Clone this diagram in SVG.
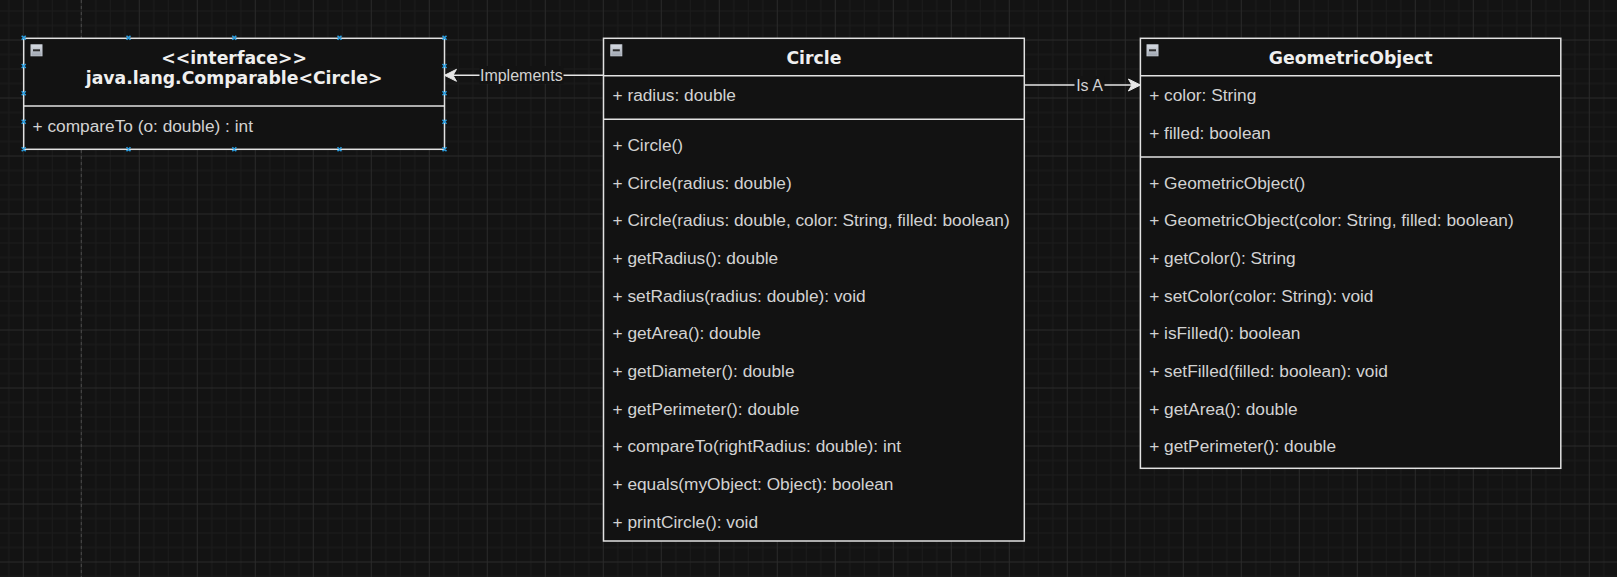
<svg xmlns="http://www.w3.org/2000/svg" xmlns:xlink="http://www.w3.org/1999/xlink" width="1617" height="577" viewBox="0 0 1617 577">
<style>
.box{fill:#121212;stroke:#e2e2e2;stroke-width:1.5}
.div{stroke:#e2e2e2;stroke-width:1.5;fill:none}
.title{font-family:"DejaVu Sans","Liberation Sans",sans-serif;font-weight:bold;font-size:17.3px;fill:#efefef;text-anchor:middle}
.mem{font-family:"Liberation Sans",Arial,sans-serif;font-size:17.3px;fill:#d2d2d2}
.lbl{font-family:"Liberation Sans",Arial,sans-serif;font-size:16px;fill:#d2d2d2;text-anchor:middle}
.edge{stroke:#e6e6e6;stroke-width:1.5;fill:none;marker-end:url(#arrow)}
.lblbg{fill:#131313}
.hdl{stroke:#2b9ee0;stroke-width:1.6;fill:none}
</style>
<defs>
<pattern id="grid" patternUnits="userSpaceOnUse" x="22.8" y="39.5" width="58" height="58">
<rect width="58" height="58" fill="#131313"/>
<path d="M15 0V58M29.5 0V58M44 0V58M0 15H58M0 29.5H58M0 44H58" stroke="#1c1c1c" stroke-width="1"/>
<path d="M0.5 0V58M0 0.5H58" stroke="#2a2a2a" stroke-width="1"/>
</pattern>
<linearGradient id="icg" x1="0" y1="0" x2="0" y2="1">
<stop offset="0" stop-color="#d9dde4"/>
<stop offset="1" stop-color="#9ea5b0"/>
</linearGradient>
<g id="collapse">
<rect x="0.5" y="0.5" width="11" height="11" fill="url(#icg)" stroke="#c4c9d2" stroke-width="1"/>
<rect x="2.5" y="5" width="7" height="2" fill="#2e2e2e"/>
</g>
<marker id="arrow" markerUnits="userSpaceOnUse" viewBox="-13 -7 14 14" markerWidth="14" markerHeight="14" refX="0" refY="0" orient="auto">
<path d="M0,0 L-12,-6 L-8.5,0 L-12,6 Z" fill="#e6e6e6" stroke="#e6e6e6" stroke-width="1" stroke-linejoin="miter"/>
</marker>
</defs>
<rect width="1617" height="577" fill="url(#grid)"/>
<line x1="81.3" y1="0" x2="81.3" y2="577" stroke="#4a4a4a" stroke-width="1" stroke-dasharray="3 3"/>

<g id="connectors">
<g id="edge-implements">
<line class="edge" x1="603.5" y1="75.3" x2="444.5" y2="75.3"/>
<rect class="lblbg" x="479.5" y="66" width="84" height="18"/>
<text class="lbl" x="521.3" y="81">Implements</text>
</g>
<g id="edge-isa">
<line class="edge" x1="1024" y1="85" x2="1140.4" y2="85"/>
<rect class="lblbg" x="1074.5" y="76" width="30" height="18"/>
<text class="lbl" x="1089.5" y="90.7">Is A</text>
</g>
</g>

<g id="node-comparable">
<rect class="box" x="23.7" y="38.3" width="420.8" height="111"/>
<line class="div" x1="23.7" y1="106" x2="444.5" y2="106"/>
<use xlink:href="#collapse" x="30.5" y="44.3"/>
<text class="title" x="234.1" y="63.7">&lt;&lt;interface&gt;&gt;</text>
<text class="title" x="234.1" y="84.3">java.lang.Comparable&lt;Circle&gt;</text>
<text class="mem" x="32.5" y="131.7">+ compareTo (o: double) : int</text>
<g id="handles">
<path class="hdl" d="M21.7 35.7l4 4m0-4l-4 4M126.5 35.7l4 4m0-4l-4 4M232.3 35.7l4 4m0-4l-4 4M337.5 35.7l4 4m0-4l-4 4M442.5 35.7l4 4m0-4l-4 4"/>
<path class="hdl" d="M21.7 147.3l4 4m0-4l-4 4M126.5 147.3l4 4m0-4l-4 4M232.3 147.3l4 4m0-4l-4 4M337.5 147.3l4 4m0-4l-4 4M442.5 147.3l4 4m0-4l-4 4"/>
<path class="hdl" d="M21.7 64l4 4m0-4l-4 4M21.7 91.3l4 4m0-4l-4 4M21.7 119.7l4 4m0-4l-4 4M442.5 64l4 4m0-4l-4 4M442.5 91.3l4 4m0-4l-4 4M442.5 119.7l4 4m0-4l-4 4"/>
</g>
</g>

<g id="node-circle">
<rect class="box" x="603.5" y="38.3" width="420.8" height="502.7"/>
<line class="div" x1="603.5" y1="75.7" x2="1024.3" y2="75.7"/>
<line class="div" x1="603.5" y1="119.2" x2="1024.3" y2="119.2"/>
<use xlink:href="#collapse" x="610.3" y="44.3"/>
<text class="title" x="813.9" y="63.5">Circle</text>
<text class="mem" x="612.5" y="101">+ radius: double</text>
<text class="mem" x="612.5" y="150.8">+ Circle()</text>
<text class="mem" x="612.5" y="188.5">+ Circle(radius: double)</text>
<text class="mem" x="612.5" y="226.2">+ Circle(radius: double, color: String, filled: boolean)</text>
<text class="mem" x="612.5" y="263.9">+ getRadius(): double</text>
<text class="mem" x="612.5" y="301.6">+ setRadius(radius: double): void</text>
<text class="mem" x="612.5" y="339.3">+ getArea(): double</text>
<text class="mem" x="612.5" y="377">+ getDiameter(): double</text>
<text class="mem" x="612.5" y="414.7">+ getPerimeter(): double</text>
<text class="mem" x="612.5" y="452.4">+ compareTo(rightRadius: double): int</text>
<text class="mem" x="612.5" y="490.1">+ equals(myObject: Object): boolean</text>
<text class="mem" x="612.5" y="527.8">+ printCircle(): void</text>
</g>

<g id="node-geometricobject">
<rect class="box" x="1140.4" y="38.3" width="420.4" height="430"/>
<line class="div" x1="1140.4" y1="75.7" x2="1560.8" y2="75.7"/>
<line class="div" x1="1140.4" y1="156.9" x2="1560.8" y2="156.9"/>
<use xlink:href="#collapse" x="1146.5" y="44.3"/>
<text class="title" x="1350.6" y="63.5">GeometricObject</text>
<text class="mem" x="1149.2" y="101">+ color: String</text>
<text class="mem" x="1149.2" y="138.8">+ filled: boolean</text>
<text class="mem" x="1149.2" y="188.5">+ GeometricObject()</text>
<text class="mem" x="1149.2" y="226.2">+ GeometricObject(color: String, filled: boolean)</text>
<text class="mem" x="1149.2" y="263.9">+ getColor(): String</text>
<text class="mem" x="1149.2" y="301.6">+ setColor(color: String): void</text>
<text class="mem" x="1149.2" y="339.3">+ isFilled(): boolean</text>
<text class="mem" x="1149.2" y="377">+ setFilled(filled: boolean): void</text>
<text class="mem" x="1149.2" y="414.7">+ getArea(): double</text>
<text class="mem" x="1149.2" y="452.4">+ getPerimeter(): double</text>
</g>
</svg>
